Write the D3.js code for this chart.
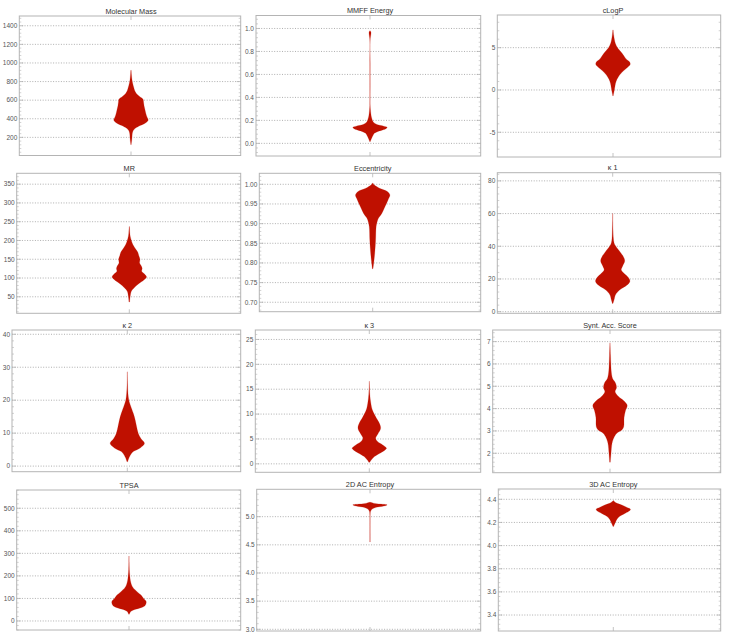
<!DOCTYPE html>
<html><head><meta charset="utf-8">
<script src="https://cdn.jsdelivr.net/npm/d3@7"></script>
<style>
html,body{margin:0;padding:0;background:#fff;}
svg{display:block;font-family:"Liberation Sans",Arial,sans-serif;}
</style></head>
<body><svg id="c" width="730" height="635"></svg>
<script>
// ---- data ----
const titles = ["Molecular Mass","MMFF Energy","cLogP","MR","Eccentricity","κ 1","κ 2","κ 3","Synt. Acc. Score","TPSA","2D AC Entropy","3D AC Entropy"];

// plot ranges (y) per panel
const plotRanges = [[5,1505],[-0.11,1.113],[-7.92,8.86],[6,379],[0.676,1.028],[-1,85],[-1.7,41.3],[-1.7,26.9],[1.13,7.52],[-40,581],[2.97,5.486],[3.262,4.489]];

// tick labels
const ticksMass = [200,400,600,800,1000,1200,1400];
const ticksMMFF = [0,0.2,0.4,0.6,0.8,1.0];
const ticksLogP = [-5,0,5];
const ticksMR = [50,100,150,200,250,300,350];
const ticksEcc = [0.70,0.75,0.80,0.85,0.90,0.95,1.00];
const ticksK1 = [0,20,40,60,80];
const ticksK2 = [0,10,20,30,40];
const ticksK3 = [0,5,10,15,20,25];
const ticksSA = [2,3,4,5,6,7];
const ticksTPSA = [0,100,200,300,400,500];
const ticks2D = [3.0,3.5,4.0,4.5,5.0];
const ticks3D = [3.4,3.6,3.8,4.0,4.2,4.4];
const tickFormats = ["d",".1f","d","d",".2f","d","d","d","d","d",".1f",".1f"];

// violin profiles: values (y) and relative density (width)
const massY = [120,160,200,230,260,290,320,350,385,420,460,500,540,580,610,640,672,700,744,780,816,870,922];
const massW = [0.01,0.04,0.06,0.07,0.1,0.2,0.45,0.8,1.0,0.93,0.86,0.81,0.76,0.73,0.7,0.5,0.31,0.22,0.15,0.1,0.06,0.03,0.01];
const mmffY = [0.014,0.043,0.07,0.087,0.1,0.115,0.13,0.14,0.15,0.16,0.17,0.188,0.21,0.232,0.26,0.29,0.33,0.5,0.7,0.9,0.945,0.965,0.98];
const mmffW = [0.01,0.09,0.18,0.25,0.4,0.7,0.95,1.0,0.8,0.5,0.32,0.18,0.12,0.08,0.05,0.03,0.012,0.01,0.01,0.01,0.05,0.06,0.01];
const logpY = [-0.7,-0.3,0,0.5,1,1.5,2,2.5,3,3.3,3.7,4.3,4.7,5,5.5,6,6.5,7.1];
const logpW = [0.01,0.05,0.08,0.12,0.18,0.3,0.48,0.75,1.0,0.97,0.75,0.54,0.38,0.26,0.14,0.08,0.04,0.01];
const mrY = [36,50,65,75,85,95,103,110,118,125,132,140,150,160,168,175,182,190,200,210,220,237];
const mrW = [0.02,0.05,0.12,0.3,0.55,0.85,1.0,0.9,0.72,0.75,0.7,0.6,0.62,0.55,0.5,0.4,0.3,0.2,0.12,0.06,0.03,0.01];
const eccY = [0.785,0.80,0.825,0.858,0.892,0.905,0.914,0.926,0.94,0.952,0.963,0.973,0.982,0.99,0.998,1.003];
const eccW = [0.02,0.06,0.12,0.17,0.2,0.26,0.34,0.53,0.68,0.81,0.92,1.0,0.85,0.4,0.1,0.02];
const k1Y = [5,8,10,12,14,16,18.5,21,23,25.5,28,31,34,37,40,42,45,50,55,60];
const k1W = [0.02,0.1,0.15,0.28,0.5,0.8,1.0,0.9,0.7,0.5,0.58,0.7,0.6,0.4,0.18,0.08,0.04,0.02,0.01,0.005];
const k2Y = [1.3,2.5,3.8,4.4,5.5,6.9,8.3,9.9,12,14,16,18.5,20,22,25,28.6];
const k2W = [0.02,0.1,0.24,0.35,0.75,1.0,0.8,0.64,0.54,0.46,0.35,0.18,0.09,0.04,0.015,0.005];
const k3Y = [0.3,0.7,1.47,2.2,2.8,3.14,3.8,4.5,5.15,6,7.15,8.2,9.2,10.8,12.2,14,16.6];
const k3W = [0.03,0.1,0.3,0.65,0.92,1.0,0.78,0.48,0.37,0.5,0.66,0.58,0.41,0.18,0.09,0.03,0.005];
const saY = [1.6,2,2.45,2.75,2.9,3.05,3.2,3.6,3.9,4.15,4.35,4.55,4.75,4.95,5.15,5.35,5.7,6,6.4,6.95];
const saW = [0.02,0.06,0.12,0.26,0.4,0.7,0.8,0.82,0.9,1.0,0.8,0.48,0.3,0.38,0.32,0.15,0.07,0.05,0.03,0.005];
const tpsaY = [30,40,50,60,70,86,100,115,128,138,150,160,180,200,230,260,288];
const tpsaW = [0.02,0.08,0.3,0.75,0.95,1.0,0.85,0.7,0.5,0.35,0.22,0.15,0.08,0.05,0.02,0.01,0.005];
const e2dY = [4.55,4.7,4.9,5.05,5.1,5.14,5.17,5.195,5.21,5.225,5.24,5.255];
const e2dW = [0.01,0.01,0.01,0.015,0.04,0.15,0.45,0.9,1.0,0.6,0.2,0.02];
const e3dY = [4.165,4.18,4.2,4.22,4.24,4.26,4.28,4.3,4.315,4.33,4.35,4.365,4.38,4.39];
const e3dW = [0.02,0.06,0.12,0.18,0.28,0.45,0.7,0.95,1.0,0.8,0.5,0.22,0.06,0.01];

const tickSets = [ticksMass,ticksMMFF,ticksLogP,ticksMR,ticksEcc,ticksK1,ticksK2,ticksK3,ticksSA,ticksTPSA,ticks2D,ticks3D];
const profY = [massY,mmffY,logpY,mrY,eccY,k1Y,k2Y,k3Y,saY,tpsaY,e2dY,e3dY];
const profW = [massW,mmffW,logpW,mrW,eccW,k1W,k2W,k3W,saW,tpsaW,e2dW,e3dW];

// ---- layout (pixels): left, top, right, bottom, violin center fraction ----
const layout = [
  [19.3,16,240.7,155.5],[256,15.5,480.7,156],[497.3,15,720.7,157],
  [16.7,173.3,240.7,313.3],[259.3,173.3,480.7,311.7],[497.3,172.7,720.7,313.3],
  [12,330,240.7,471.7],[255.3,330,480.7,472.3],[492.7,330,720.7,472.7],
  [16.7,490,240.7,630],[256.7,489.3,480.7,631],[498.3,489,720.7,631]
];
const centers = [131,370,613,129.3,372.7,612.7,127.3,369.3,610,129,370,613.3];

const svg = d3.select("#c");
const red = "#bf1000";
const frameCol = "#b4b4b4";
const halfW = d3.scaleLinear().domain([0,1]).range([0,17.2]);

titles.forEach((t,i)=>{
  const [l,tp,r,b] = layout[i];
  const g = svg.append("g");
  const y = d3.scaleLinear().domain(plotRanges[i]).range([b,tp]);
  const x = d3.scaleLinear().domain([0,1]).range([l,r]);
  const cxv = x.invert(centers[i]);
  const cx = x(cxv);
  const ticks = tickSets[i];
  const step = ticks[1]-ticks[0];
  // minor ticks
  const minors = [];
  const d0 = plotRanges[i][0], d1 = plotRanges[i][1];
  const start = Math.ceil((d0 - ticks[0]) / (step/5) - 1e-9);
  for(let k=start; ; k++){
    const v = ticks[0] + k*step/5;
    if(v > d1) break;
    if(Math.abs(k%5) !== 0) minors.push(v);
  }
  // gridlines
  g.selectAll(".grid").data(ticks).enter().append("line")
    .attr("x1",l).attr("x2",r).attr("y1",d=>y(d)).attr("y2",d=>y(d))
    .attr("stroke","#9a9a9a").attr("stroke-width",0.8).attr("stroke-dasharray","1,1.6");
  // violin
  const pts = profY[i].map((v,j)=>[v,profW[i][j]]);
  const area = d3.area()
    .y(d=>y(d[0]))
    .x0(d=>cx - halfW(d[1]))
    .x1(d=>cx + halfW(d[1]))
    .curve(d3.curveCatmullRom.alpha(0.5));
  g.append("path").datum(pts).attr("d",area).attr("fill",red).attr("stroke",red).attr("stroke-width",0.3).attr("stroke-opacity",0.6);
  // frame
  g.append("rect").attr("x",l).attr("y",tp).attr("width",r-l).attr("height",b-tp)
    .attr("fill","none").attr("stroke",frameCol).attr("stroke-width",1);
  // major ticks both sides
  [[l,1],[r,-1]].forEach(([xx,dir])=>{
    g.selectAll(null).data(ticks).enter().append("line")
      .attr("x1",xx).attr("x2",xx+dir*4).attr("y1",d=>y(d)).attr("y2",d=>y(d))
      .attr("stroke",frameCol).attr("stroke-width",0.8);
    g.selectAll(null).data(minors).enter().append("line")
      .attr("x1",xx).attr("x2",xx+dir*2).attr("y1",d=>y(d)).attr("y2",d=>y(d))
      .attr("stroke",frameCol).attr("stroke-width",0.6);
  });
  // center ticks top and bottom
  g.append("line").attr("x1",cx).attr("x2",cx).attr("y1",tp).attr("y2",tp+4).attr("stroke",frameCol).attr("stroke-width",0.8);
  g.append("line").attr("x1",cx).attr("x2",cx).attr("y1",b).attr("y2",b-4).attr("stroke",frameCol).attr("stroke-width",0.8);
  // tick labels
  const fmt = d3.format(tickFormats[i]);
  g.selectAll(null).data(ticks).enter().append("text")
    .attr("x",l-2).attr("y",d=>y(d)).attr("dy","0.35em")
    .attr("text-anchor","end").attr("font-size","6.5px").attr("fill","#555")
    .text(d=>fmt(d).replace("−","-"));
  // title
  g.append("text").attr("x",cx).attr("y",tp-2.3).attr("text-anchor","middle")
    .attr("font-size","7.3px").attr("fill","#333").text(t);
});
</script></body></html>
